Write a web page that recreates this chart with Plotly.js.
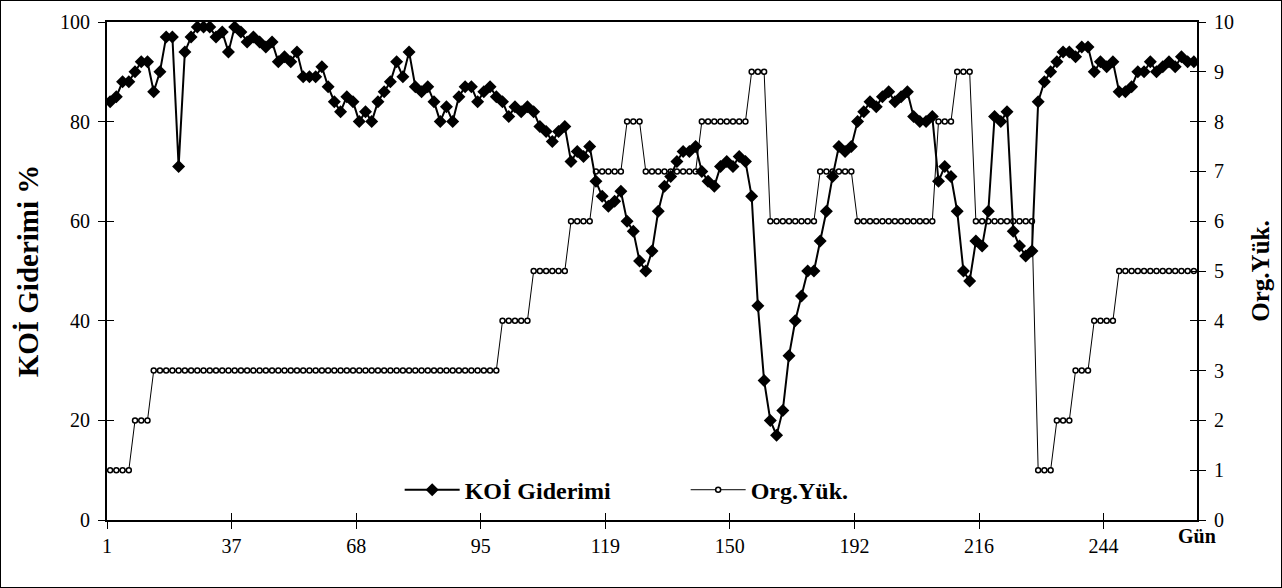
<!DOCTYPE html>
<html><head><meta charset="utf-8">
<script src="https://cdn.plot.ly/plotly-3.0.1.min.js"></script>
<style>
html,body{margin:0;padding:0;background:#fff;}
#frame{width:1280px;height:586px;border:1px solid #000;}
#chart{width:1280px;height:586px;}
</style></head><body><div id="frame"><div id="chart"></div></div>
<script>
// x-axis category labels (day numbers shown every 20th sample)
const tickIndex = [0, 20, 40, 60, 80, 100, 120, 140, 160];
const tickDays = ['1', '37', '68', '95', '119', '150', '192', '216', '244'];

// KOİ Giderimi % (COD removal) per sample
const koiGiderimi = [
  84, 85, 88, 88, 90, 92, 92, 86, 90, 97,
  97, 71, 94, 97, 99, 99, 99, 97, 98, 94,
  99, 98, 96, 97, 96, 95, 96, 92, 93, 92,
  94, 89, 89, 89, 91, 87, 84, 82, 85, 84,
  80, 82, 80, 84, 86, 88, 92, 89, 94, 87,
  86, 87, 84, 80, 83, 80, 85, 87, 87, 84,
  86, 87, 85, 84, 81, 83, 82, 83, 82, 79,
  78, 76, 78, 79, 72, 74, 73, 75, 68, 65,
  63, 64, 66, 60, 58, 52, 50, 54, 62, 67,
  69, 72, 74, 74, 75, 70, 68, 67, 71, 72,
  71, 73, 72, 65, 43, 28, 20, 17, 22, 33,
  40, 45, 50, 50, 56, 62, 69, 75, 74, 75,
  80, 82, 84, 83, 85, 86, 84, 85, 86, 81,
  80, 80, 81, 68, 71, 69, 62, 50, 48, 56,
  55, 62, 81, 80, 82, 58, 55, 53, 54, 84,
  88, 90, 92, 94, 94, 93, 95, 95, 90, 92,
  91, 92, 86, 86, 87, 90, 90, 92, 90, 91,
  92, 91, 93, 92, 92
];

// Org.Yük. (organic load) per sample
const orgYuk = [
  1, 1, 1, 1, 2, 2, 2,
  3, 3, 3, 3, 3, 3, 3, 3, 3, 3,
  3, 3, 3, 3, 3, 3, 3, 3, 3, 3,
  3, 3, 3, 3, 3, 3, 3, 3, 3, 3,
  3, 3, 3, 3, 3, 3, 3, 3, 3, 3,
  3, 3, 3, 3, 3, 3, 3, 3, 3, 3,
  3, 3, 3, 3, 3, 3,
  4, 4, 4, 4, 4,
  5, 5, 5, 5, 5, 5,
  6, 6, 6, 6,
  7, 7, 7, 7, 7,
  8, 8, 8,
  7, 7, 7, 7, 7, 7, 7, 7, 7,
  8, 8, 8, 8, 8, 8, 8, 8,
  9, 9, 9,
  6, 6, 6, 6, 6, 6, 6, 6,
  7, 7, 7, 7, 7, 7,
  6, 6, 6, 6, 6, 6, 6, 6, 6, 6, 6, 6, 6,
  8, 8, 8,
  9, 9, 9,
  6, 6, 6, 6, 6, 6, 6, 6, 6, 6,
  1, 1, 1,
  2, 2, 2,
  3, 3, 3,
  4, 4, 4, 4,
  5, 5, 5, 5, 5, 5, 5, 5, 5, 5, 5, 5, 5
];

const pointIndex = koiGiderimi.map((_, i) => i);
const nPoints = pointIndex.length;
// category axis with the value axis crossing between categories
const xRange = [-0.5, nPoints - 0.5];
const tickBoundaries = tickIndex.map(v => v - 0.5);

const FONT = 'Liberation Serif';
const tickFont = {family: FONT, size: 20, color: '#000'};
const legendFont = {family: FONT, size: 24, color: '#000'};
const leftTitleFont = {family: FONT, size: 29, color: '#000'};
const rightTitleFont = {family: FONT, size: 25, color: '#000'};
const gunFont = {family: FONT, size: 20, color: '#000'};

const traces = [
  {
    name: '<b>KOİ Giderimi</b>', x: pointIndex, y: koiGiderimi, yaxis: 'y2',
    type: 'scatter', mode: 'lines+markers',
    line: {color: '#000', width: 2},
    marker: {symbol: 'diamond', size: 10, color: '#000'},
    hoverinfo: 'skip'
  },
  {
    name: '<b>Org.Yük.</b>', x: pointIndex, y: orgYuk, yaxis: 'y',
    type: 'scatter', mode: 'lines+markers',
    line: {color: '#000', width: 1},
    marker: {symbol: 'circle', size: 5, color: '#fff', line: {color: '#000', width: 1.5}},
    hoverinfo: 'skip'
  },
  // empty helpers so the inner tick axes are drawn
  {x: [null], y: [null], xaxis: 'x2', yaxis: 'y', showlegend: false, hoverinfo: 'skip'},
  {x: [null], y: [null], xaxis: 'x', yaxis: 'y3', showlegend: false, hoverinfo: 'skip'},
  {x: [null], y: [null], xaxis: 'x', yaxis: 'y4', showlegend: false, hoverinfo: 'skip'}
];

const common = {showgrid: false, zeroline: false, tickcolor: '#000', tickwidth: 1, ticklen: 7};

const layout = {
  width: 1280, height: 586,
  margin: {l: 106, r: 84, t: 21, b: 67},
  paper_bgcolor: '#fff', plot_bgcolor: '#fff',
  showlegend: true,
  legend: {
    orientation: 'h', x: 0.2685, y: 0.06, xanchor: 'left', yanchor: 'middle',
    font: legendFont, bgcolor: 'rgba(0,0,0,0)', itemwidth: 55,
    entrywidth: 216, entrywidthmode: 'pixels'
  },
  xaxis: Object.assign({}, common, {
    range: xRange, tickmode: 'array', tickvals: tickBoundaries, ticktext: tickDays,
    ticks: 'outside', showline: true, linecolor: '#000', linewidth: 2, mirror: true,
    tickfont: tickFont
  }),
  xaxis2: Object.assign({}, common, {
    overlaying: 'x', anchor: 'y', side: 'bottom',
    range: xRange, tickmode: 'array', tickvals: tickBoundaries, ticktext: tickDays,
    ticks: 'inside', showticklabels: false, showline: false
  }),
  yaxis: Object.assign({}, common, {
    side: 'right', range: [0, 10], dtick: 1, tick0: 0, ticks: 'outside',
    showline: true, linecolor: '#000', linewidth: 2, tickfont: tickFont,
    ticklabelstandoff: 4,
    title: {text: '<b>Org.Yük.</b>', font: rightTitleFont, standoff: 18}
  }),
  yaxis2: Object.assign({}, common, {
    overlaying: 'y', side: 'left', anchor: 'x', range: [0, 100], dtick: 20, tick0: 0,
    ticks: 'outside', showline: true, linecolor: '#000', linewidth: 2, tickfont: tickFont,
    ticklabelstandoff: 4,
    title: {text: '<b>KOİ Giderimi %</b>', font: leftTitleFont, standoff: 13}
  }),
  yaxis3: Object.assign({}, common, {
    overlaying: 'y', side: 'right', anchor: 'x', range: [0, 10], dtick: 1, tick0: 0,
    ticks: 'inside', showticklabels: false, showline: false
  }),
  yaxis4: Object.assign({}, common, {
    overlaying: 'y', side: 'left', anchor: 'x', range: [0, 100], dtick: 20, tick0: 0,
    ticks: 'inside', showticklabels: false, showline: false
  }),
  annotations: [{
    text: '<b>Gün</b>', xref: 'paper', yref: 'paper', x: 1.0, y: -0.032,
    xanchor: 'center', yanchor: 'middle', showarrow: false, font: gunFont
  }]
};

Plotly.newPlot('chart', traces, layout, {displayModeBar: false, staticPlot: true});
</script></body></html>
